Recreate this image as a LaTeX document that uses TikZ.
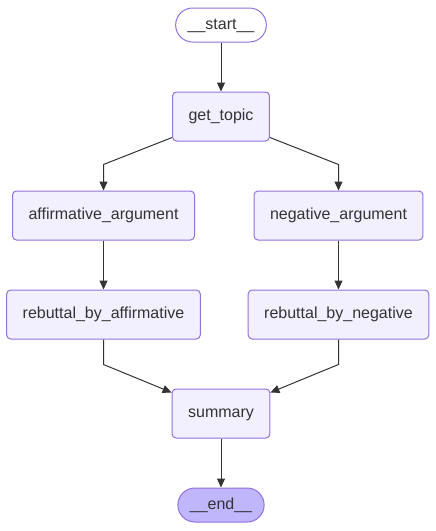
\documentclass[tikz,border=0pt]{standalone}
\usepackage{fontspec}
\setmainfont{Liberation Sans}
\usepackage{tikz}
\usetikzlibrary{arrows.meta}

\definecolor{boxfill}{HTML}{F2F0FF}
\definecolor{boxline}{HTML}{9370DB}
\definecolor{endfill}{HTML}{BFB6FC}
\definecolor{ink}{HTML}{333333}

\tikzset{
	stepbox/.style={draw=boxline, fill=boxfill, line width=1pt, rounded corners=4pt,
		minimum height=49pt, inner xsep=16pt, text=ink, font=\fontsize{16}{19}\selectfont,
		text height=11.5pt, text depth=3pt},
	terminal/.style={stepbox, rounded corners=17pt, minimum height=34pt, inner xsep=12pt},
	edge/.style={draw=ink, line width=1pt, -{Triangle[length=9pt,width=8pt]}}
}

\begin{document}
\begin{tikzpicture}[x=1pt, y=-1pt]
	\useasboundingbox (0,0) rectangle (436,531);
	\node[terminal, fill=white] (start) at (221, 25) {\_\_start\_\_};
	\node[stepbox] (gettopic) at (221, 116.5) {get\_topic};
	\node[stepbox] (affarg) at (103.5, 215.5) {affirmative\_argument};
	\node[stepbox] (negarg) at (338.5, 215.5) {negative\_argument};
	\node[stepbox] (rebaff) at (103.5, 314.5) {rebuttal\_by\_affirmative};
	\node[stepbox] (rebneg) at (338.5, 314.5) {rebuttal\_by\_negative};
	\node[stepbox] (summary) at (221, 413.5) {summary};
	\node[terminal, fill=endfill] (end) at (221, 505) {\_\_end\_\_};

	\draw[edge] (start) -- (gettopic);
	\draw[edge] ([yshift=4pt]gettopic.south west) -- ([yshift=26pt]affarg.north) -- (affarg.north);
	\draw[edge] ([yshift=4pt]gettopic.south east) -- ([yshift=26pt]negarg.north) -- (negarg.north);
	\draw[edge] (affarg) -- (rebaff);
	\draw[edge] (negarg) -- (rebneg);
	\draw[edge] (rebaff.south) -- ([yshift=-25pt]rebaff.south) -- ([yshift=-4pt]summary.north west);
	\draw[edge] (rebneg.south) -- ([yshift=-25pt]rebneg.south) -- ([yshift=-4pt]summary.north east);
	\draw[edge] (summary) -- (end);
\end{tikzpicture}
\end{document}
